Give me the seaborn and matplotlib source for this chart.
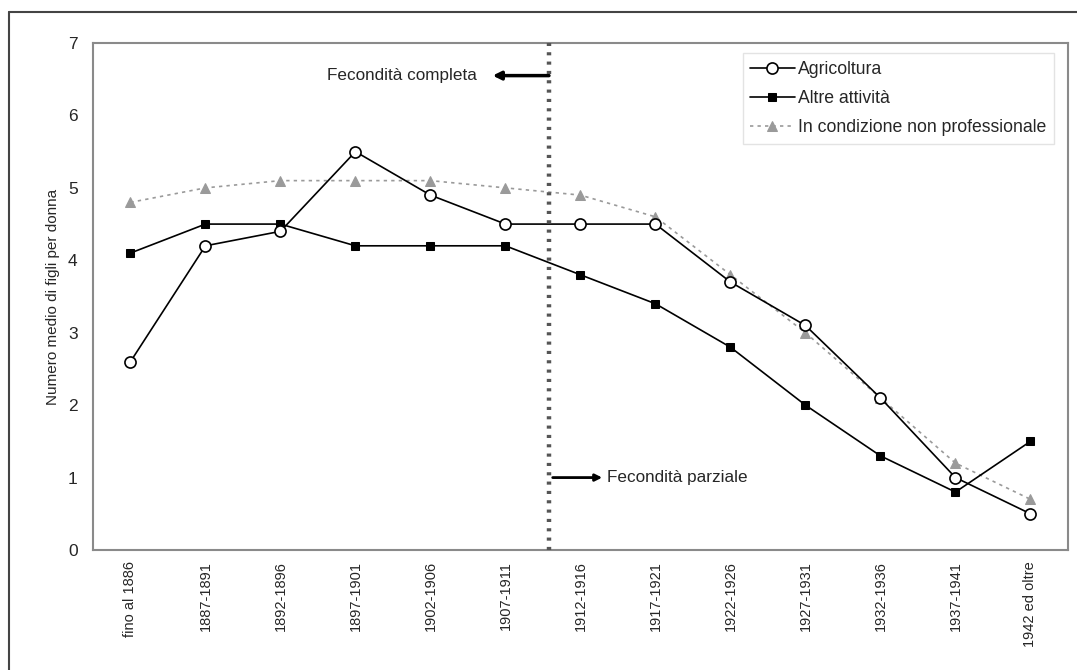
import numpy as np
import matplotlib
matplotlib.use("Agg")
import matplotlib.pyplot as plt
import pandas as pd
import seaborn as sns
from matplotlib.lines import Line2D

# dati
coorti = ["fino al 1886", "1887-1891", "1892-1896", "1897-1901", "1902-1906",
          "1907-1911", "1912-1916", "1917-1921", "1922-1926", "1927-1931",
          "1932-1936", "1937-1941", "1942 ed oltre"]
agricoltura = [2.6, 4.2, 4.4, 5.5, 4.9, 4.5, 4.5, 4.5, 3.7, 3.1, 2.1, 1.0, 0.5]
altre = [4.1, 4.5, 4.5, 4.2, 4.2, 4.2, 3.8, 3.4, 2.8, 2.0, 1.3, 0.8, 1.5]
non_prof = [4.8, 5.0, 5.1, 5.1, 5.1, 5.0, 4.9, 4.6, 3.8, 3.0, 2.1, 1.2, 0.7]

sns.set_style("white")
plt.rcParams["font.family"] = ["Liberation Sans", "DejaVu Sans"]

df = pd.DataFrame({"coorte": coorti, "Agricoltura": agricoltura,
                   "Altre attività": altre,
                   "In condizione non professionale": non_prof})

fig = plt.figure(figsize=(10.77, 6.70), dpi=100)
ax = fig.add_axes([0.0863, 0.1791, 0.9053, 0.7567])

# serie 3: grigia tratteggiata con triangoli
sns.lineplot(data=df, x="coorte", y="In condizione non professionale", ax=ax,
             sort=False, color="#9a9a9a", linestyle=(0, (2, 2.5)), linewidth=1.2,
             marker="^", markersize=6.5, markeredgecolor="#9a9a9a",
             label="In condizione non professionale", zorder=3)
sns.lineplot(data=df, x="coorte", y="Altre attività", ax=ax, sort=False,
             color="black", linewidth=1.2, marker="s", markersize=6,
             markeredgecolor="black", label="Altre attività", zorder=4)
sns.lineplot(data=df, x="coorte", y="Agricoltura", ax=ax, sort=False,
             color="black", linewidth=1.2, marker="o", markersize=8,
             markerfacecolor="white", markeredgecolor="black",
             markeredgewidth=1.2, label="Agricoltura", zorder=5)

ax.set_xlim(-0.5, len(coorti) - 0.5)
ax.set_ylim(0, 7)
ax.set_yticks(range(0, 8))
ax.tick_params(axis="y", labelsize=12.5, length=0, pad=11)
ax.tick_params(axis="x", labelsize=10.5, length=0, pad=8, rotation=90)
ax.set_xlabel("")
ax.set_ylabel("Numero medio di figli per donna", fontsize=11, labelpad=6)
for s in ax.spines.values():
    s.set_color("#8a8a8a")
    s.set_linewidth(1.5)

# linea verticale di separazione
ax.axvline(5.58, color="#555555", linewidth=3.2, linestyle=(0, (0.7, 1.4)),
           zorder=6)

ax.annotate("", xy=(4.83, 6.55), xytext=(5.58, 6.55),
            arrowprops=dict(arrowstyle="-|>", color="black", lw=2.5,
                            mutation_scale=12, shrinkA=0, shrinkB=0))
ax.text(4.62, 6.55, "Fecondità completa", ha="right", va="center",
        fontsize=12.3)
ax.annotate("", xy=(6.29, 1.0), xytext=(5.63, 1.0),
            arrowprops=dict(arrowstyle="-|>", color="black", lw=2.0,
                            mutation_scale=10, shrinkA=0, shrinkB=0))
ax.text(6.35, 1.0, "Fecondità parziale", ha="left", va="center",
        fontsize=12.3)

h, l = ax.get_legend_handles_labels()
order = [2, 1, 0]
leg = ax.legend([h[i] for i in order], [l[i] for i in order],
                loc="upper right", fontsize=12.7, frameon=True, fancybox=False,
                edgecolor="#dddddd", handlelength=2.5, handletextpad=0.2,
                borderpad=0.45, labelspacing=0.7, bbox_to_anchor=(0.995, 0.998))

# cornice esterna (lati sinistro e superiore)
fig.add_artist(Line2D([9 / 1077, 9 / 1077], [0, 1 - 12 / 670],
                      transform=fig.transFigure, color="#444444", lw=1.5))
fig.add_artist(Line2D([9 / 1077, 1], [1 - 12 / 670, 1 - 12 / 670],
                      transform=fig.transFigure, color="#444444", lw=1.5))

fig.savefig("out.png", dpi=100)
